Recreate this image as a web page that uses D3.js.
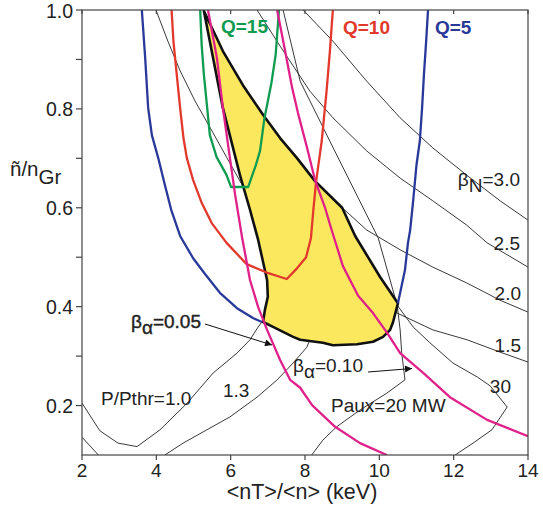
<!DOCTYPE html>
<html><head><meta charset="utf-8">
<script src="https://cdn.jsdelivr.net/npm/d3@7"></script>
<style>body{margin:0;background:#fff}svg{font-family:"Liberation Sans",Arial,sans-serif}</style>
</head><body><svg id="c" width="543" height="506"></svg>
<script>
// ---- data (x = <nT>/<n> keV, y = n/nGr) ----
const xTicks = [2,4,6,8,10,12,14];
const yTicks = [0.2,0.4,0.6,0.8,1.0];
const yMinor = [0.3,0.5,0.7,0.9];

const q5LeftX = [3.61,3.70,3.78,3.88,4.05,4.23,4.40,4.64,4.99,5.31,5.71,6.17,6.60,6.84];
const q5LeftY = [1.0,0.903,0.802,0.747,0.701,0.646,0.596,0.543,0.498,0.466,0.428,0.397,0.377,0.369];
const q5RightX = [10.50,10.69,10.77,10.83,10.91,11.00,11.09,11.15,11.20,11.26,11.31];
const q5RightY = [0.407,0.474,0.529,0.555,0.614,0.687,0.735,0.802,0.869,0.937,1.0];

const q10X = [4.41,4.46,4.55,4.64,4.73,4.82,4.99,5.22,5.49,5.89,6.43,6.97,7.51,7.79,8.03,8.16,8.23,8.30,8.45,8.58,8.67,8.72,8.75];
const q10Y = [1.0,0.937,0.869,0.802,0.741,0.701,0.656,0.610,0.569,0.529,0.486,0.469,0.456,0.478,0.500,0.539,0.600,0.654,0.735,0.836,0.917,0.970,1.0];

const q15X = [5.18,5.22,5.28,5.36,5.44,5.62,5.89,6.01,6.47,6.68,6.79,6.91,6.98,7.10,7.21,7.27,7.30];
const q15Y = [1.0,0.929,0.869,0.808,0.747,0.703,0.666,0.642,0.642,0.687,0.715,0.782,0.808,0.854,0.909,0.970,1.0];

const ba05X = [5.39,5.63,5.79,5.98,6.12,6.31,6.52,6.74,6.98,7.33,7.60,7.87,8.19,8.81,9.48,10.20];
const ba05Y = [1.0,0.903,0.802,0.701,0.626,0.539,0.454,0.399,0.353,0.292,0.252,0.236,0.201,0.157,0.124,0.1];
const ba10X = [7.25,7.46,7.65,7.81,8.05,8.27,8.54,8.70,9.02,9.43,9.83,10.21,10.56,11.18,11.90,12.90,14.0];
const ba10Y = [1.0,0.919,0.844,0.792,0.723,0.656,0.600,0.559,0.482,0.422,0.387,0.347,0.306,0.266,0.217,0.171,0.138];

const windowX = [5.28,5.79,6.33,6.87,7.33,7.78,8.27,9.00,9.35,10.02,10.50,10.37,10.29,10.10,9.83,9.40,8.75,8.48,7.87,7.68,7.14,6.87,6.92,7.00,6.98,6.92,6.74,6.52,6.25,5.79];
const windowY = [0.998,0.917,0.848,0.788,0.741,0.701,0.654,0.600,0.543,0.460,0.407,0.369,0.353,0.339,0.329,0.324,0.322,0.327,0.333,0.339,0.359,0.369,0.393,0.420,0.454,0.474,0.535,0.596,0.666,0.802];

const bn30X = [7.95,8.75,9.66,10.56,11.44,12.35,13.25,14.0];
const bn30Y = [1.0,0.937,0.856,0.782,0.721,0.666,0.614,0.575];
const bn25X = [6.71,7.33,8.13,8.75,9.66,10.56,11.44,12.35,12.90,14.0];
const bn25Y = [1.0,0.927,0.836,0.782,0.715,0.660,0.614,0.565,0.529,0.480];
const bn20X = [5.28,5.79,6.33,6.87,7.33,7.78,8.27,9.00,9.66,10.56,11.44,12.35,13.25,14.0];
const bn20Y = [1.0,0.917,0.848,0.788,0.741,0.701,0.654,0.600,0.555,0.515,0.480,0.448,0.413,0.389];
const bn15X = [3.99,4.31,4.64,5.04,5.50,5.90,6.28,7.87,10.48,11.44,12.36,13.25,14.0];
const bn15Y = [1.0,0.937,0.877,0.816,0.755,0.701,0.650,0.517,0.387,0.353,0.333,0.308,0.288];

const pth10X = [2.0,2.48,2.97,3.48,4.10,4.83,5.53,6.17,6.52,6.74,6.84];
const pth10Y = [0.205,0.149,0.124,0.117,0.151,0.205,0.266,0.306,0.333,0.359,0.369];
const pth13aX = [2.0,2.44];
const pth13aY = [0.136,0.1];
const pth13X = [4.23,4.72,5.36,5.98,6.71,7.25,7.68,8.05,8.13];
const pth13Y = [0.1,0.124,0.151,0.177,0.217,0.252,0.286,0.318,0.333];

const paux20X = [8.18,8.48,8.85,9.48,10.20,10.69,10.60,10.56,10.48];
const paux20Y = [0.1,0.130,0.157,0.191,0.225,0.252,0.308,0.353,0.403];
const paux30X = [7.41,7.87,8.76,9.97,10.48,10.91,11.36,11.98,12.63,12.98,13.44,13.03,12.52,12.04];
const paux30Y = [1.0,0.856,0.721,0.539,0.403,0.359,0.327,0.286,0.258,0.240,0.197,0.151,0.124,0.1];

// ---- drawing ----
const svg = d3.select("#c");
const x = d3.scaleLinear().domain([2,14]).range([82,528]);
const y = d3.scaleLinear().domain([0.1,1.0]).range([455,10]);
const zip = (xs,ys)=>xs.map((v,i)=>[v,ys[i]]);
const line = d3.line().x(d=>x(d[0])).y(d=>y(d[1]));

svg.append("defs").append("clipPath").attr("id","clip")
  .append("rect").attr("x",82).attr("y",10).attr("width",446).attr("height",445);
svg.select("defs").append("marker").attr("id","arr").attr("viewBox","0 0 10 10")
  .attr("refX",10).attr("refY",5).attr("markerWidth",9).attr("markerHeight",7)
  .attr("markerUnits","userSpaceOnUse").attr("orient","auto")
  .append("path").attr("d","M0,0L10,5L0,10z").attr("fill","#111");

const g = svg.append("g").attr("clip-path","url(#clip)");
const thin = [[bn30X,bn30Y],[bn25X,bn25Y],[bn20X,bn20Y],[bn15X,bn15Y],[pth10X,pth10Y],[pth13aX,pth13aY],[pth13X,pth13Y],[paux20X,paux20Y],[paux30X,paux30Y]];
thin.forEach(([a,b])=>g.append("path").attr("d",line(zip(a,b))).attr("fill","none").attr("stroke","#222").attr("stroke-width",0.9));

g.append("path").attr("d",line(zip(windowX,windowY))+"Z").attr("fill","#fbe85e").attr("stroke","#111").attr("stroke-width",2.6).attr("stroke-linejoin","round");

const col = [[q5LeftX,q5LeftY,"#29399a"],[q5RightX,q5RightY,"#29399a"],[q10X,q10Y,"#e2392c"],[q15X,q15Y,"#0f9b50"],[ba05X,ba05Y,"#e0218a"],[ba10X,ba10Y,"#e0218a"]];
col.forEach(([a,b,c])=>g.append("path").attr("d",line(zip(a,b))).attr("fill","none").attr("stroke",c).attr("stroke-width",2.3).attr("stroke-linejoin","round"));

// arrows
svg.append("line").attr("x1",205).attr("y1",324).attr("x2",272).attr("y2",345).attr("stroke","#111").attr("stroke-width",1).attr("marker-end","url(#arr)");
svg.append("line").attr("x1",368).attr("y1",372).attr("x2",412).attr("y2",368.5).attr("stroke","#111").attr("stroke-width",1).attr("marker-end","url(#arr)");

// axes frame
const ax = svg.append("g").attr("stroke","#444").attr("stroke-width",1.2);
ax.append("rect").attr("x",82).attr("y",10).attr("width",446).attr("height",445).attr("fill","none");
xTicks.forEach(t=>{ax.append("line").attr("x1",x(t)).attr("x2",x(t)).attr("y1",455).attr("y2",460);
  ax.append("line").attr("x1",x(t)).attr("x2",x(t)).attr("y1",10).attr("y2",14);});
yTicks.concat(yMinor).forEach(t=>ax.append("line").attr("x1",76).attr("x2",82).attr("y1",y(t)).attr("y2",y(t)));

const T = svg.append("g").attr("fill","#222").attr("font-size",19);
xTicks.forEach(t=>T.append("text").attr("x",x(t)).attr("y",477).attr("text-anchor","middle").text(t));
yTicks.forEach(t=>T.append("text").attr("x",73).attr("y",y(t)+7.5).attr("text-anchor","end").attr("font-size",19.5).text(t.toFixed(1)));
T.append("text").attr("x",302).attr("y",499).attr("text-anchor","middle").attr("font-size",21.5).text("<nT>/<n> (keV)");
const yt = T.append("text").attr("x",10).attr("y",176).attr("font-size",20.5);
yt.append("tspan").text("ñ/n"); yt.append("tspan").attr("dy",8).text("Gr");

function sub(xp,yp,a,s,b,anchor,extra){
  const t=T.append("text").attr("x",xp).attr("y",yp).attr("text-anchor",anchor||"start");
  t.append("tspan").text(a); t.append("tspan").attr("dy",6).text(s); t.append("tspan").attr("dy",-6).text(b);
  if(extra) extra(t); return t;
}
sub(520,186,"β","N","=3.0","end");
T.append("text").attr("x",520).attr("y",250).attr("text-anchor","end").text("2.5");
T.append("text").attr("x",521).attr("y",300).attr("text-anchor","end").text("2.0");
T.append("text").attr("x",521).attr("y",352).attr("text-anchor","end").text("1.5");
T.append("text").attr("x",511).attr("y",393).attr("text-anchor","end").text("30");
sub(131,328,"β","α","=0.05","start",t=>t.attr("stroke","#222").attr("stroke-width",0.4));
sub(293,372,"β","α","=0.10","start");
T.append("text").attr("x",101).attr("y",405).text("P/Pthr=1.0");
T.append("text").attr("x",223).attr("y",397).text("1.3");
T.append("text").attr("x",331).attr("y",412).text("Paux=20 MW");

const Q = svg.append("g").attr("font-size",19).attr("font-weight","bold");
Q.append("text").attr("x",221).attr("y",33).attr("fill","#0f9b50").text("Q=15");
Q.append("text").attr("x",343).attr("y",34).attr("fill","#e2392c").text("Q=10");
Q.append("text").attr("x",435).attr("y",34).attr("fill","#29399a").text("Q=5");
</script></body></html>
